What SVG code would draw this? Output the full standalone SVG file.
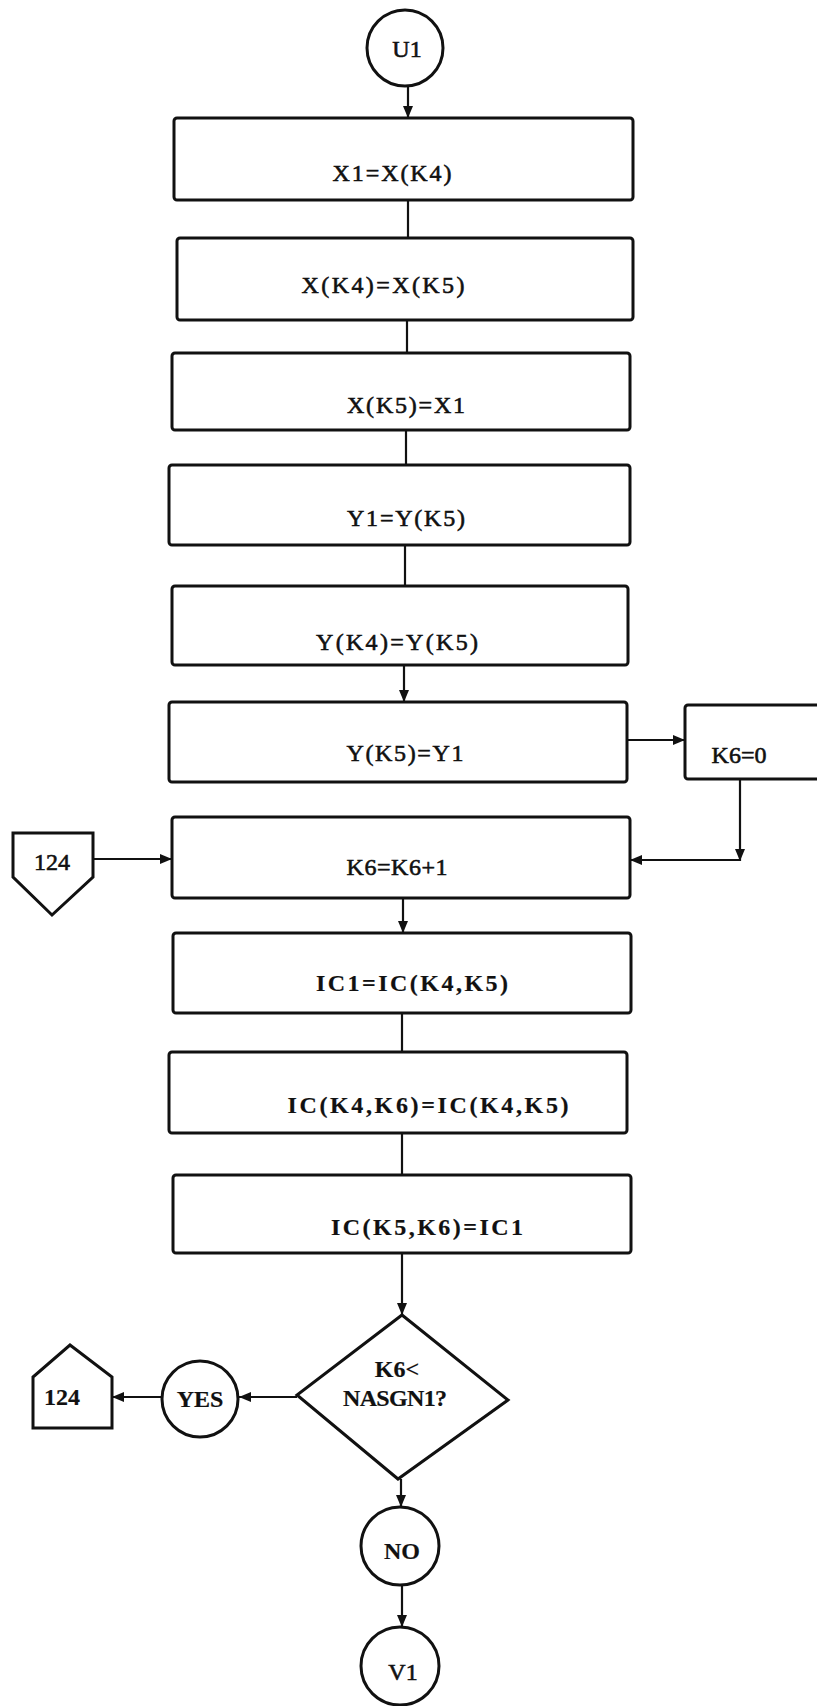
<svg xmlns="http://www.w3.org/2000/svg" width="817" height="1706" viewBox="0 0 817 1706">
<style>
.box{fill:#fff;stroke:#111;stroke-width:3;}
.ln{fill:none;stroke:#111;stroke-width:2.2;}
.t{font-family:"Liberation Serif","DejaVu Serif",serif;font-size:24px;fill:#111;text-anchor:middle;dominant-baseline:central;stroke:#111;stroke-width:0.6;}
.b{font-weight:bold;stroke-width:0.2;}
</style>
<defs>
<marker id="ah" markerUnits="userSpaceOnUse" markerWidth="14" markerHeight="12" refX="12" refY="6" orient="auto">
<path d="M0,1 L12,6 L0,11 Z" fill="#111"/>
</marker>
</defs>
<rect width="817" height="1706" fill="#fff"/>
<g id="connectors">
<line class="ln" x1="408" y1="86" x2="408" y2="118" marker-end="url(#ah)"/>
<line class="ln" x1="408" y1="200" x2="408" y2="238"/>
<line class="ln" x1="407" y1="320" x2="407" y2="353"/>
<line class="ln" x1="406" y1="430" x2="406" y2="465"/>
<line class="ln" x1="405" y1="545" x2="405" y2="586"/>
<line class="ln" x1="404" y1="665" x2="404" y2="702" marker-end="url(#ah)"/>
<line class="ln" x1="627" y1="740" x2="685" y2="740" marker-end="url(#ah)"/>
<line class="ln" x1="740" y1="779" x2="740" y2="861" marker-end="url(#ah)"/>
<line class="ln" x1="741" y1="860" x2="630" y2="860" marker-end="url(#ah)"/>
<line class="ln" x1="93" y1="859" x2="172" y2="859" marker-end="url(#ah)"/>
<line class="ln" x1="403" y1="898" x2="403" y2="933" marker-end="url(#ah)"/>
<line class="ln" x1="402" y1="1013" x2="402" y2="1052"/>
<line class="ln" x1="402" y1="1133" x2="402" y2="1175"/>
<line class="ln" x1="402" y1="1253" x2="402" y2="1315" marker-end="url(#ah)"/>
<line class="ln" x1="297" y1="1397" x2="239" y2="1397" marker-end="url(#ah)"/>
<line class="ln" x1="161" y1="1397" x2="112" y2="1397" marker-end="url(#ah)"/>
<line class="ln" x1="401" y1="1479" x2="401" y2="1507" marker-end="url(#ah)"/>
<line class="ln" x1="402" y1="1585" x2="402" y2="1627" marker-end="url(#ah)"/>
</g>
<g id="u1"><circle class="box" cx="405" cy="48" r="38"/><text class="t" x="407" y="49">U1</text></g>
<g id="b1"><rect class="box" x="174" y="118" width="459" height="82" rx="3"/><text class="t" x="392" y="173" textLength="119" lengthAdjust="spacing">X1=X(K4)</text></g>
<g id="b2"><rect class="box" x="177" y="238" width="456" height="82" rx="3"/><text class="t" x="383" y="285" textLength="163" lengthAdjust="spacing">X(K4)=X(K5)</text></g>
<g id="b3"><rect class="box" x="172" y="353" width="458" height="77" rx="3"/><text class="t" x="406" y="405" textLength="118" lengthAdjust="spacing">X(K5)=X1</text></g>
<g id="b4"><rect class="box" x="169" y="465" width="461" height="80" rx="3"/><text class="t" x="406" y="518" textLength="118" lengthAdjust="spacing">Y1=Y(K5)</text></g>
<g id="b5"><rect class="box" x="172" y="586" width="456" height="79" rx="3"/><text class="t" x="397" y="642" textLength="162" lengthAdjust="spacing">Y(K4)=Y(K5)</text></g>
<g id="b6"><rect class="box" x="169" y="702" width="458" height="80" rx="3"/><text class="t" x="405" y="753" textLength="117" lengthAdjust="spacing">Y(K5)=Y1</text></g>
<g id="k60"><rect class="box" x="685" y="705" width="150" height="74" rx="3"/><text class="t" x="739" y="755">K6=0</text></g>
<g id="b7"><rect class="box" x="172" y="817" width="458" height="81" rx="3"/><text class="t" x="397" y="867" textLength="101" lengthAdjust="spacing">K6=K6+1</text></g>
<g id="off124in"><path class="box" d="M13,833 H93 V877 L52,915 L13,877 Z"/><text class="t" x="52" y="862" font-size="26">124</text></g>
<g id="b8"><rect class="box" x="173" y="933" width="458" height="80" rx="3"/><text class="t b" x="412" y="983" textLength="192" lengthAdjust="spacing">IC1=IC(K4,K5)</text></g>
<g id="b9"><rect class="box" x="169" y="1052" width="458" height="81" rx="3"/><text class="t b" x="428" y="1105" textLength="281" lengthAdjust="spacing">IC(K4,K6)=IC(K4,K5)</text></g>
<g id="b10"><rect class="box" x="173" y="1175" width="458" height="78" rx="3"/><text class="t b" x="427" y="1227" textLength="192" lengthAdjust="spacing">IC(K5,K6)=IC1</text></g>
<g id="dec"><path class="box" d="M402,1315 L508,1400 L398,1479 L297,1395 Z"/><text class="t b" x="397" y="1369">K6&lt;</text><text class="t b" x="395" y="1398" textLength="104" lengthAdjust="spacing">NASGN1?</text></g>
<g id="yes"><circle class="box" cx="200" cy="1399" r="38"/><text class="t b" x="200" y="1399">YES</text></g>
<g id="off124out"><path class="box" d="M33,1428 V1377 L70,1345 L112,1377 V1428 Z"/><text class="t b" x="62" y="1397" font-size="26">124</text></g>
<g id="no"><circle class="box" cx="400" cy="1546" r="39"/><text class="t b" x="402" y="1551">NO</text></g>
<g id="v1"><circle class="box" cx="400" cy="1666" r="39"/><text class="t" x="403" y="1672">V1</text></g>
</svg>
